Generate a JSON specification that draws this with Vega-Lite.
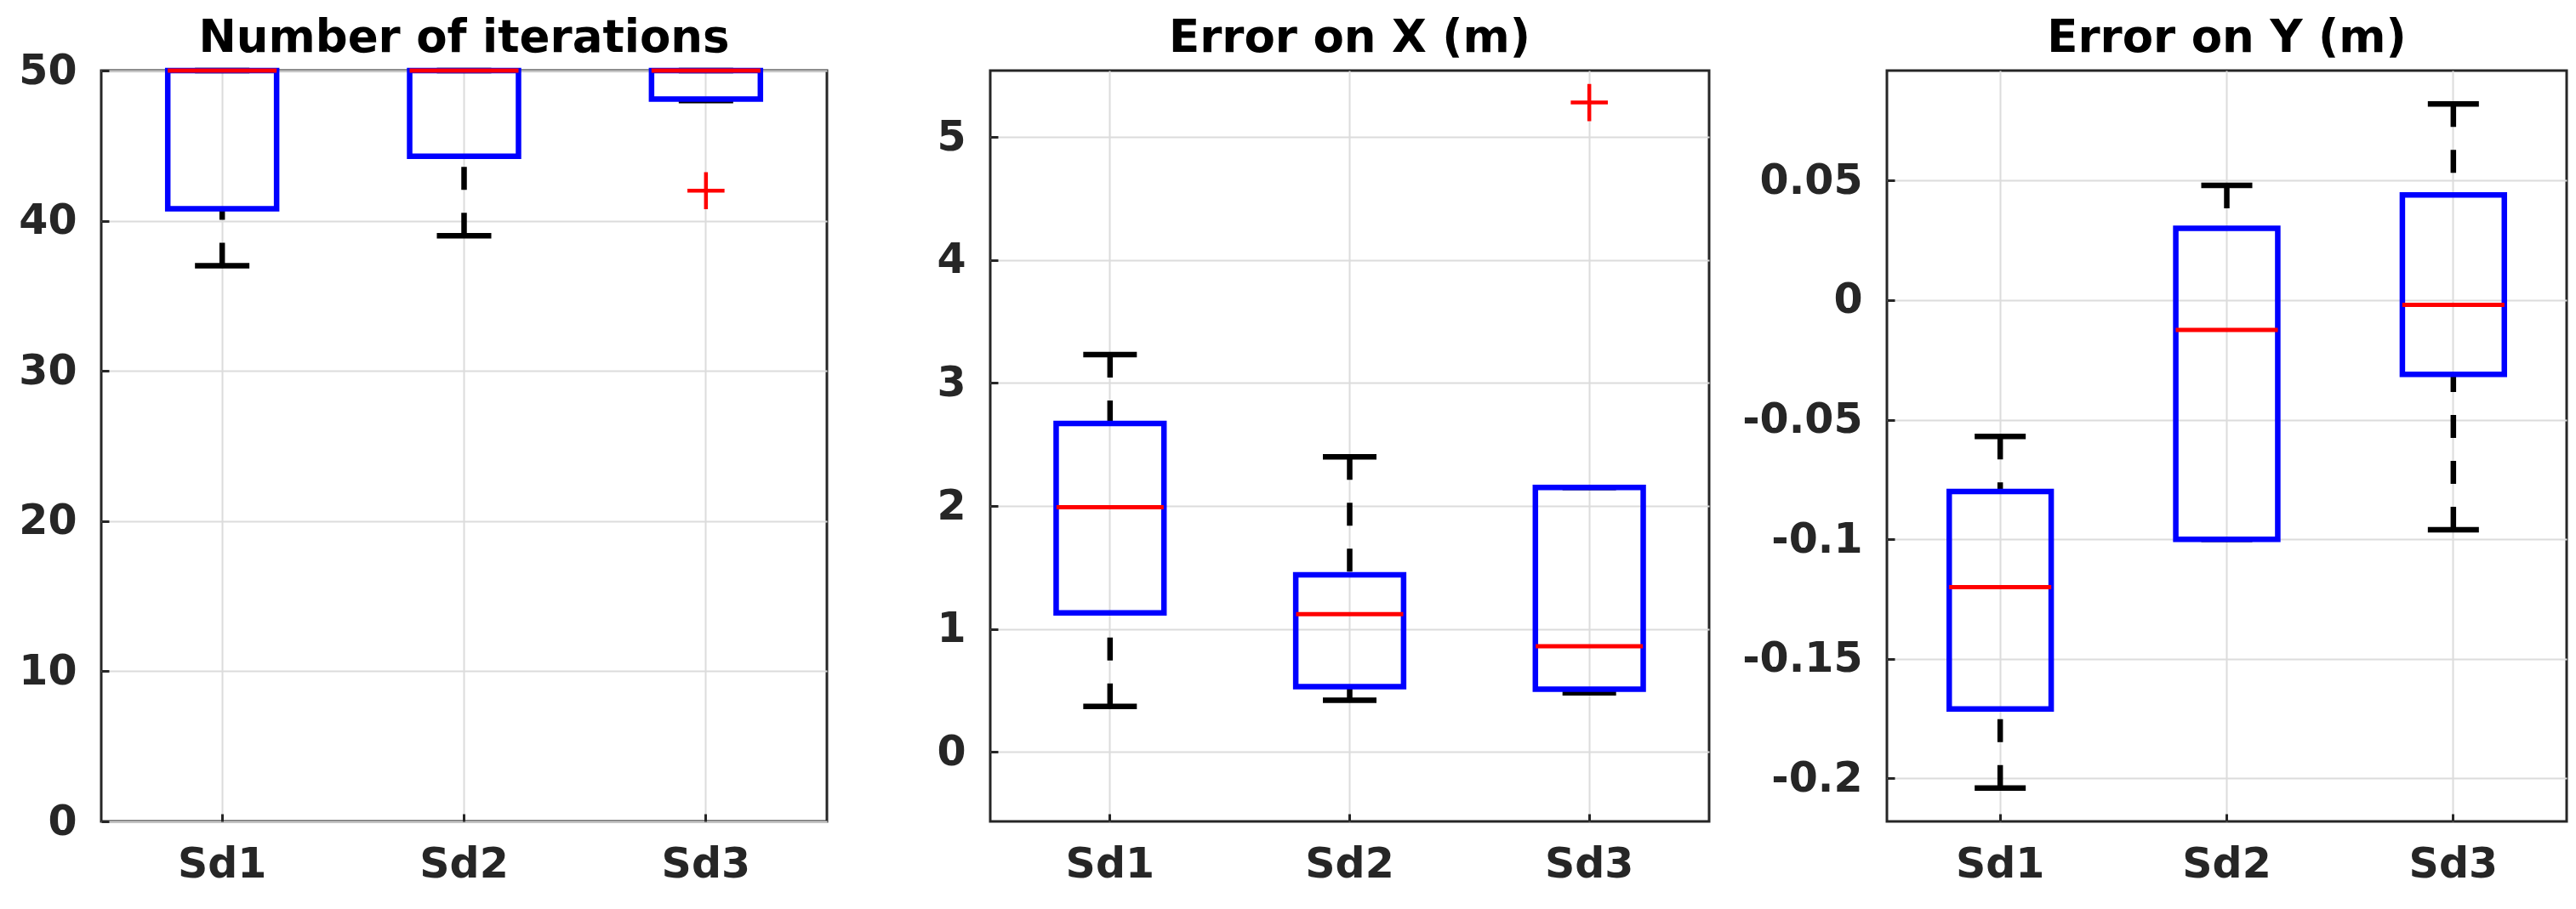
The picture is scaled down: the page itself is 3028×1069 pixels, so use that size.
{
  "$schema": "https://vega.github.io/schema/vega-lite/v6.json",
  "background": "white",
  "padding": {"left": 0, "top": 17, "right": 0, "bottom": 0},
  "spacing": 0,
  "config": {
    "font": "DejaVu Sans",
    "view": {"stroke": "#262626", "strokeWidth": 3},
    "axis": {
      "domain": false,
      "ticks": true,
      "tickSize": -9,
      "tickWidth": 3,
      "tickColor": "#262626",
      "grid": true,
      "gridColor": "#dcdcdc",
      "gridWidth": 2,
      "labelFont": "DejaVu Sans",
      "labelFontWeight": "bold",
      "labelFontSize": 49,
      "labelColor": "#262626",
      "title": null
    },
    "axisX": {"labelPadding": 35, "bandPosition": 0.5, "labelAngle": 0},
    "axisY": {"labelPadding": 38}
  },
  "datasets": {
    "iter": [
      {"group": "Sd1", "lo": 37, "q1": 40.8, "med": 50, "q3": 50, "hi": 50},
      {"group": "Sd2", "lo": 39, "q1": 44.3, "med": 50, "q3": 50, "hi": 50},
      {"group": "Sd3", "lo": 48, "q1": 48.1, "med": 50, "q3": 50, "hi": 50}
    ],
    "iter_out": [
      {"group": "Sd3", "value": 42}
    ],
    "errx": [
      {"group": "Sd1", "lo": 0.37, "q1": 1.13, "med": 1.99, "q3": 2.67, "hi": 3.23},
      {"group": "Sd2", "lo": 0.42, "q1": 0.53, "med": 1.12, "q3": 1.44, "hi": 2.40},
      {"group": "Sd3", "lo": 0.48, "q1": 0.51, "med": 0.86, "q3": 2.15, "hi": 2.15}
    ],
    "errx_out": [
      {"group": "Sd3", "value": 5.28}
    ],
    "erry": [
      {"group": "Sd1", "lo": -0.204, "q1": -0.171, "med": -0.120, "q3": -0.080, "hi": -0.057},
      {"group": "Sd2", "lo": -0.100, "q1": -0.100, "med": -0.0125, "q3": 0.030, "hi": 0.048},
      {"group": "Sd3", "lo": -0.096, "q1": -0.031, "med": -0.002, "q3": 0.044, "hi": 0.082}
    ]
  },
  "hconcat": [
    {
      "title": {"text": "Number of iterations", "anchor": "middle", "offset": -13, "fontSize": 53, "fontWeight": "bold", "font": "DejaVu Sans", "color": "#000000"},
      "width": 853,
      "height": 883,
      "encoding": {
        "x": {"field": "group", "type": "nominal", "scale": {"paddingInner": 0.55, "paddingOuter": 0.275}, "axis": {}}
      },
      "layer": [
        {
          "data": {"name": "iter"},
          "mark": {"type": "rule", "color": "#000000", "strokeWidth": 6.5, "strokeDash": [27, 27]},
          "encoding": {
            "y": {"field": "hi", "type": "quantitative", "scale": {"domain": [0, 50], "nice": false, "zero": false}, "axis": {"values": [0, 10, 20, 30, 40, 50], "labelExpr": "'' + datum.value", "minExtent": 117, "maxExtent": 117}},
            "y2": {"field": "q3"}
          }
        },
        {
          "data": {"name": "iter"},
          "mark": {"type": "rule", "color": "#000000", "strokeWidth": 6.5, "strokeDash": [27, 27]},
          "encoding": {"y": {"field": "lo", "type": "quantitative"}, "y2": {"field": "q1"}}
        },
        {
          "data": {"name": "iter"},
          "mark": {"type": "tick", "color": "#000000", "size": 64, "thickness": 6.5, "opacity": 1},
          "encoding": {"y": {"field": "hi", "type": "quantitative"}}
        },
        {
          "data": {"name": "iter"},
          "mark": {"type": "tick", "color": "#000000", "size": 64, "thickness": 6.5, "opacity": 1},
          "encoding": {"y": {"field": "lo", "type": "quantitative"}}
        },
        {
          "data": {"name": "iter"},
          "mark": {"type": "bar", "filled": false, "stroke": "#0000FF", "strokeWidth": 6.5},
          "encoding": {"y": {"field": "q1", "type": "quantitative"}, "y2": {"field": "q3"}}
        },
        {
          "data": {"name": "iter"},
          "mark": {"type": "tick", "color": "#FF0000", "size": 128, "thickness": 5, "opacity": 1},
          "encoding": {"y": {"field": "med", "type": "quantitative"}}
        },
        {
          "data": {"name": "iter_out"},
          "mark": {"type": "point", "shape": "M-1,0L1,0M0,-1L0,1", "filled": false, "stroke": "#FF0000", "strokeWidth": 4.5, "size": 1900, "opacity": 1},
          "encoding": {"y": {"field": "value", "type": "quantitative"}}
        }
      ]
    },
    {
      "title": {"text": "Error on X (m)", "anchor": "middle", "offset": 11, "fontSize": 53, "fontWeight": "bold", "font": "DejaVu Sans", "color": "#000000"},
      "width": 845,
      "height": 883,
      "encoding": {
        "x": {"field": "group", "type": "nominal", "scale": {"paddingInner": 0.55, "paddingOuter": 0.275}, "axis": {}}
      },
      "layer": [
        {
          "data": {"name": "errx"},
          "mark": {"type": "rule", "color": "#000000", "strokeWidth": 6.5, "strokeDash": [27, 27]},
          "encoding": {
            "y": {"field": "hi", "type": "quantitative", "scale": {"domain": [-0.565, 5.54], "nice": false, "zero": false}, "axis": {"values": [0, 1, 2, 3, 4, 5], "labelExpr": "'' + datum.value", "minExtent": 188, "maxExtent": 188}},
            "y2": {"field": "q3"}
          }
        },
        {
          "data": {"name": "errx"},
          "mark": {"type": "rule", "color": "#000000", "strokeWidth": 6.5, "strokeDash": [27, 27]},
          "encoding": {"y": {"field": "lo", "type": "quantitative"}, "y2": {"field": "q1"}}
        },
        {
          "data": {"name": "errx"},
          "mark": {"type": "tick", "color": "#000000", "size": 63, "thickness": 6.5, "opacity": 1},
          "encoding": {"y": {"field": "hi", "type": "quantitative"}}
        },
        {
          "data": {"name": "errx"},
          "mark": {"type": "tick", "color": "#000000", "size": 63, "thickness": 6.5, "opacity": 1},
          "encoding": {"y": {"field": "lo", "type": "quantitative"}}
        },
        {
          "data": {"name": "errx"},
          "mark": {"type": "bar", "filled": false, "stroke": "#0000FF", "strokeWidth": 6.5},
          "encoding": {"y": {"field": "q1", "type": "quantitative"}, "y2": {"field": "q3"}}
        },
        {
          "data": {"name": "errx"},
          "mark": {"type": "tick", "color": "#FF0000", "size": 126, "thickness": 5, "opacity": 1},
          "encoding": {"y": {"field": "med", "type": "quantitative"}}
        },
        {
          "data": {"name": "errx_out"},
          "mark": {"type": "point", "shape": "M-1,0L1,0M0,-1L0,1", "filled": false, "stroke": "#FF0000", "strokeWidth": 4.5, "size": 1900, "opacity": 1},
          "encoding": {"y": {"field": "value", "type": "quantitative"}}
        }
      ]
    },
    {
      "title": {"text": "Error on Y (m)", "anchor": "middle", "offset": 11, "fontSize": 53, "fontWeight": "bold", "font": "DejaVu Sans", "color": "#000000"},
      "width": 799,
      "height": 883,
      "encoding": {
        "x": {"field": "group", "type": "nominal", "scale": {"paddingInner": 0.55, "paddingOuter": 0.275}, "axis": {}}
      },
      "layer": [
        {
          "data": {"name": "erry"},
          "mark": {"type": "rule", "color": "#000000", "strokeWidth": 6.5, "strokeDash": [27, 27]},
          "encoding": {
            "y": {"field": "hi", "type": "quantitative", "scale": {"domain": [-0.218, 0.096], "nice": false, "zero": false}, "axis": {"values": [-0.2, -0.15, -0.1, -0.05, 0, 0.05], "labelExpr": "'' + datum.value", "minExtent": 205, "maxExtent": 205}},
            "y2": {"field": "q3"}
          }
        },
        {
          "data": {"name": "erry"},
          "mark": {"type": "rule", "color": "#000000", "strokeWidth": 6.5, "strokeDash": [27, 27]},
          "encoding": {"y": {"field": "lo", "type": "quantitative"}, "y2": {"field": "q1"}}
        },
        {
          "data": {"name": "erry"},
          "mark": {"type": "tick", "color": "#000000", "size": 60, "thickness": 6.5, "opacity": 1},
          "encoding": {"y": {"field": "hi", "type": "quantitative"}}
        },
        {
          "data": {"name": "erry"},
          "mark": {"type": "tick", "color": "#000000", "size": 60, "thickness": 6.5, "opacity": 1},
          "encoding": {"y": {"field": "lo", "type": "quantitative"}}
        },
        {
          "data": {"name": "erry"},
          "mark": {"type": "bar", "filled": false, "stroke": "#0000FF", "strokeWidth": 6.5},
          "encoding": {"y": {"field": "q1", "type": "quantitative"}, "y2": {"field": "q3"}}
        },
        {
          "data": {"name": "erry"},
          "mark": {"type": "tick", "color": "#FF0000", "size": 120, "thickness": 5, "opacity": 1},
          "encoding": {"y": {"field": "med", "type": "quantitative"}}
        }
      ]
    }
  ]
}
